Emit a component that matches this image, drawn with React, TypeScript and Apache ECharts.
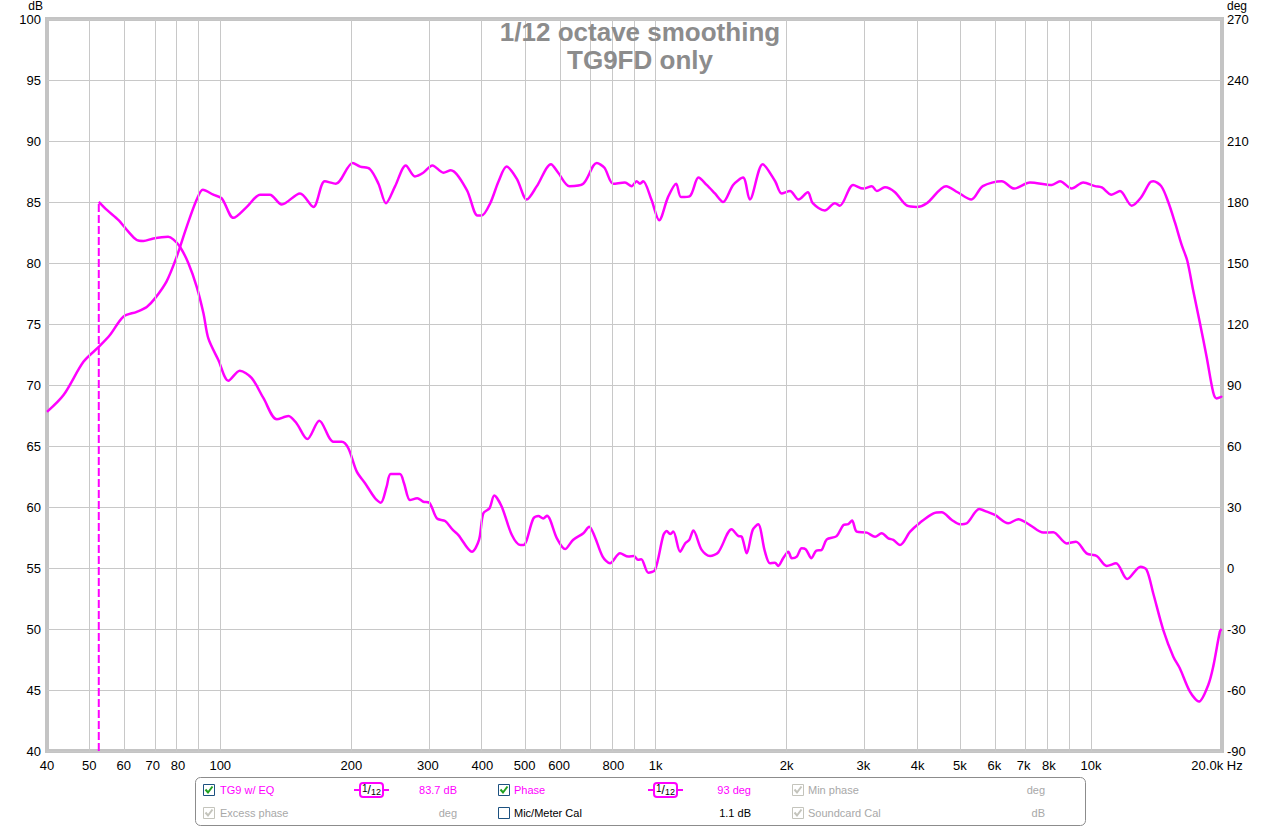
import { useEffect, useRef } from "react";
import * as echarts from "echarts";

// ---- Data (frequency in Hz) ----
const splFreq = [
  40, 43.7, 48.5, 52.5, 55.8, 59.9, 64.3, 67.8, 70.8, 75.3, 79.4, 83.8, 88.3, 91.2, 96.4, 100.8,
  107.2, 115.1, 123.5, 130, 138.4, 152.5, 163.7, 173.8, 184.3, 201.5, 209.6, 220.7, 230.9, 240.3,
  252.2, 266.8, 280, 292.6, 307.1, 325.5, 338.4, 368.3, 389.6, 398.7, 417, 435.9, 454.7, 480, 506,
  533.6, 575, 597.4, 633.9, 682.1, 732.4, 763, 799.2, 850.4, 881, 904.5, 920.5, 936.4, 978, 1019,
  1068, 1115, 1144, 1200, 1254.6, 1310, 1368.6, 1429, 1507, 1588, 1646, 1762, 1882, 1947, 2036,
  2129, 2237, 2296, 2447, 2581, 2650, 2843, 3000, 3139, 3222, 3364, 3547, 3782, 3980, 4198, 4648,
  4940, 5310, 5644, 6239, 6663, 7244, 8130, 8490, 9030, 9600, 10220, 10590, 11150, 11660, 12404,
  12990, 13660, 13900, 14500, 15050, 15600, 16150, 16640, 17160, 17790, 18440, 19090, 19430,
  19850, 20000,
];
const splDb = [
  67.8, 69.2, 71.9, 73.1, 74.1, 75.6, 76.0, 76.4, 77.1, 78.5, 80.5, 83.0, 85.2, 86.0, 85.6, 85.3,
  83.7, 84.6, 85.6, 85.6, 84.8, 85.7, 84.6, 86.7, 86.5, 88.2, 87.9, 87.7, 86.5, 84.9,
  86.3, 88.0, 87.1, 87.4, 88.0, 87.4, 87.6, 86.0, 83.9, 83.9, 84.9, 86.7, 87.9, 86.9, 85.2,
  86.3, 88.1, 87.4, 86.3, 86.5, 88.2, 87.8, 86.5, 86.6, 86.3, 86.7, 86.5, 86.7, 85.2, 83.5,
  85.4, 86.5, 85.4, 85.5, 87.0, 86.4, 85.7, 85.0, 86.4, 87.0, 85.2, 88.1, 86.7, 85.7, 85.9,
  85.2, 85.8, 84.9, 84.3, 84.9, 84.7, 86.4, 86.1, 86.3, 85.9, 86.2, 85.8, 84.7, 84.6, 84.9, 86.3,
  85.8, 85.2, 86.3, 86.7, 86.1, 86.6, 86.4, 86.7, 86.1, 86.6, 86.3, 86.2, 85.6, 85.9, 84.7,
  85.3, 86.6, 86.7, 86.3, 85.0, 83.3, 81.5, 80.2, 77.8, 75.1, 72.3, 69.4, 68.9,
  69.0, 69.1,
];

const phaseFreq = [
  52.6, 54.9, 58.4, 61.5, 64.3, 66.6, 70.2, 75.9, 78, 80.8, 84.5, 88.3, 91.5, 93.9, 99, 104.4,
  110.9, 118, 125.7, 134.9, 143.4, 149.8, 158.5, 168.9, 181.9, 190.1, 196.9, 205.9, 215.1, 226.8,
  233.8, 241.1, 246.3, 258.6, 264.3, 272.9, 283.5, 292.7, 302.1, 314.5, 328.5, 342.2, 352.4,
  378.5, 393, 402, 415.5, 426, 443, 467.6, 489, 497.3, 524, 537.8, 552, 563, 593.3, 619.5, 646,
  682.5, 703.8, 725, 755.7, 785.7, 828.5, 865.7, 892, 911, 927, 961.9, 996.8, 1042, 1061, 1079.6,
  1098, 1138.4, 1169, 1195, 1221, 1276, 1333.6, 1393, 1495, 1549, 1577, 1619, 1671, 1720, 1783,
  1831, 1880, 1913, 1963, 2018, 2055, 2110, 2165, 2213, 2280, 2338, 2406, 2473, 2605, 2699, 2770,
  2827, 2897, 3055, 3193, 3305, 3425, 3516, 3642, 3843, 4049, 4348, 4540, 4792, 5000, 5186, 5539,
  5763, 6017, 6457, 6811, 7244, 7770, 8193, 8796, 9238, 9773, 10311, 10867, 11418, 12113, 13000,
  13429, 13900, 14662, 15459, 16000, 16878, 17704, 18598, 19092, 19775, 19950,
];
const phaseDeg = [
  180.1, 176.1, 171.1, 165.4, 161.3, 160.8, 162.1, 162.9, 161.6, 158.0, 149.9, 138.3, 125.3, 112.9, 102.3, 92.1,
  97.0, 93.5, 83.5, 73.1, 74.8, 71.1, 63.4, 72.4, 62.1, 62.1, 58.9, 47.4, 41.7, 34.3,
  32.1, 40.0, 46.2, 46.2, 41.7, 33.4, 34.3, 32.6, 32.1, 24.4, 23.1, 18.7, 16.2,
  8.0, 13.8, 26.9, 29.4, 35.6, 30.2, 16.2, 11.3, 11.3, 24.4, 25.6, 24.4, 25.7, 14.6, 9.3, 13.8,
  17.1, 20.3, 15.4, 5.6, 2.3, 7.2, 5.6, 5.9, 4.0, 4.3, -2.3, -1.0, 16.2, 18.2, 16.7,
  17.9, 8.0, 12.1, 13.8, 18.4, 8.9, 5.9, 7.7, 19.0, 15.7, 15.4, 7.2, 18.7, 21.5, 8.0,
  2.3, 2.6, 1.0, 4.8, 8.0, 4.8, 5.6, 9.7, 9.2, 4.8, 8.5, 8.9, 14.1, 15.7, 21.1, 21.6,
  23.3, 17.9, 17.4, 15.4, 17.1, 14.6, 13.8, 11.3, 17.9, 22.3, 26.9, 27.4, 23.6, 21.5, 22.0, 29.0,
  27.7, 26.1, 22.0, 24.0, 21.1, 17.4, 17.6, 12.1, 12.9, 7.2, 5.9, 1.0, 2.3, -5.4, 0.6,
  -1.0, -12.4, -30.5, -43.6, -49.3, -60.8, -65.7, -57.5, -48.5, -31.3, -30.0,
];

// phase wrap marker (dashed vertical)
const wrapFreq = 52.6;
const wrapDeg = [-90, 180];

const gridFreqs = [
  50, 60, 70, 80, 90, 100, 200, 300, 400, 500, 600, 700, 800, 900, 1000, 2000, 3000, 4000, 5000,
  6000, 7000, 8000, 9000, 10000,
];
const tickFreqs = [
  40, 50, 60, 70, 80, 100, 200, 300, 400, 500, 600, 800, 1000, 2000, 3000, 4000, 5000, 6000, 7000,
  8000, 10000, 20000,
];
const tickLabels = [
  "40", "50", "60", "70", "80", "100", "200", "300", "400", "500", "600", "800", "1k", "2k", "3k",
  "4k", "5k", "6k", "7k", "8k", "10k", "20.0k Hz",
];

const FONT = '"Liberation Sans", Arial, sans-serif';
const MAGENTA = "#ff00ff";
const GRAY_TXT = "#a8a8a8";

function txt(text: string, x: number, y: number, fill: string, size = 11, align = "left", valign = "middle") {
  return {
    type: "text",
    silent: true,
    style: {
      text,
      x,
      y,
      fill,
      font: `${size}px ${FONT}`,
      align,
      verticalAlign: valign,
      textAlign: align,
      textVerticalAlign: valign,
    },
  };
}

function checkbox(x: number, y: number, enabled: boolean, checked: boolean) {
  const els: any[] = [
    {
      type: "rect",
      silent: true,
      shape: { x: x + 0.5, y: y + 0.5, width: 11, height: 11 },
      style: { fill: "#fff", stroke: enabled ? "#1c5180" : "#c4c4bc", lineWidth: 1 },
    },
  ];
  if (checked) {
    els.push({
      type: "polyline",
      silent: true,
      shape: { points: [[x + 2.5, y + 5.5], [x + 5, y + 8.5], [x + 9.5, y + 2.5]] },
      style: { stroke: enabled ? "#21a121" : "#c4c4bc", lineWidth: 2, fill: "none" },
    });
  }
  return els;
}

function smoothIcon(x: number, y: number) {
  return [
    { type: "line", silent: true, shape: { x1: x, y1: y, x2: x + 6, y2: y }, style: { stroke: MAGENTA, lineWidth: 2 } },
    { type: "line", silent: true, shape: { x1: x + 29, y1: y, x2: x + 35, y2: y }, style: { stroke: MAGENTA, lineWidth: 2 } },
    {
      type: "rect",
      silent: true,
      shape: { x: x + 6, y: y - 7, width: 23, height: 14, r: 3 },
      style: { fill: "#fff", stroke: MAGENTA, lineWidth: 2 },
    },
    {
      type: "text",
      silent: true,
      style: {
        text: "{a|1}{b|/}{c|12}",
        x: x + 17.5,
        y,
        align: "center",
        verticalAlign: "middle",
        textAlign: "center",
        textVerticalAlign: "middle",
        fill: "#000",
        font: `11px ${FONT}`,
        rich: {
          a: { fontSize: 10, fontFamily: FONT, fill: "#000", color: "#000", verticalAlign: "top", lineHeight: 13 },
          b: { fontSize: 12, fontFamily: FONT, fill: "#000", color: "#000", lineHeight: 13 },
          c: { fontSize: 9, fontFamily: FONT, fill: "#000", color: "#000", verticalAlign: "bottom", lineHeight: 13 },
        },
      },
    },
  ];
}

export default function App() {
  const ref = useRef<HTMLDivElement>(null);

  useEffect(() => {
    const chart = echarts.init(ref.current!, null, { renderer: "svg" });
    const lg = Math.log10;

    const fmt = (v: number) => {
      const i = tickFreqs.findIndex((f) => Math.abs(lg(f) - v) < 1e-6);
      if (i < 0) return "";
      return i === tickFreqs.length - 1 ? `{e|${tickLabels[i]}}` : tickLabels[i];
    };

    const r1 = 790;
    const r2 = 813;

    const graphic: any[] = [
      txt("dB", 43, 6, "#000", 12, "right"),
      txt("deg", 1227, 6, "#000", 12, "left"),
      {
        type: "rect",
        silent: true,
        shape: { x: 195.5, y: 777.5, width: 890, height: 48, r: 5 },
        style: { fill: "#fff", stroke: "#8c8c8c", lineWidth: 1 },
      },
      ...checkbox(203, r1 - 6, true, true),
      txt("TG9 w/ EQ", 220, r1, MAGENTA),
      ...smoothIcon(354, r1),
      txt("83.7 dB", 457, r1, MAGENTA, 11, "right"),
      ...checkbox(498, r1 - 6, true, true),
      txt("Phase", 514, r1, MAGENTA),
      ...smoothIcon(648, r1),
      txt("93 deg", 751, r1, MAGENTA, 11, "right"),
      ...checkbox(792, r1 - 6, false, true),
      txt("Min phase", 808, r1, GRAY_TXT),
      txt("deg", 1045, r1, GRAY_TXT, 11, "right"),
      ...checkbox(203, r2 - 6, false, true),
      txt("Excess phase", 220, r2, GRAY_TXT),
      txt("deg", 457, r2, GRAY_TXT, 11, "right"),
      ...checkbox(498, r2 - 6, true, false),
      txt("Mic/Meter Cal", 514, r2, "#000"),
      txt("1.1 dB", 751, r2, "#000", 11, "right"),
      ...checkbox(792, r2 - 6, false, true),
      txt("Soundcard Cal", 808, r2, GRAY_TXT),
      txt("dB", 1045, r2, GRAY_TXT, 11, "right"),
    ];

    const option: any = {
      animation: false,
      backgroundColor: "#fff",
      textStyle: { fontFamily: FONT },
      title: {
        text: "1/12 octave smoothing\nTG9FD only",
        left: "center",
        top: 18,
        padding: 0,
        textStyle: { fontSize: 26, fontWeight: "bold", color: "#8c8c8c", lineHeight: 28, fontFamily: FONT },
      },
      grid: {
        left: 47,
        top: 19,
        width: 1175,
        height: 732,
        show: true,
        borderColor: "#c4c4c4",
        borderWidth: 4,
        backgroundColor: "#fff",
      },
      xAxis: {
        type: "value",
        min: lg(40),
        max: lg(20000),
        axisLine: { show: false },
        axisTick: { show: false },
        splitLine: { show: false },
        axisLabel: {
          customValues: tickFreqs.map((f) => lg(f)),
          formatter: fmt,
          fontSize: 13,
          color: "#000",
          margin: 8,
          fontFamily: FONT,
          rich: { e: { padding: [0, 10, 0, 0], fontSize: 13, color: "#000", fontFamily: FONT } },
        },
      },
      yAxis: [
        {
          type: "value",
          min: 40,
          max: 100,
          interval: 5,
          position: "left",
          axisLine: { show: false },
          axisTick: { show: false },
          splitLine: { show: true, lineStyle: { color: "#c8c8c8", width: 1 } },
          axisLabel: { fontSize: 13, color: "#000", margin: 6, fontFamily: FONT },
        },
        {
          type: "value",
          min: -90,
          max: 270,
          interval: 30,
          position: "right",
          axisLine: { show: false },
          axisTick: { show: false },
          splitLine: { show: false },
          axisLabel: { fontSize: 13, color: "#000", margin: 5, fontFamily: FONT },
        },
      ],
      series: [
        {
          name: "vgrid",
          type: "line",
          data: [],
          z: 1,
          silent: true,
          markLine: {
            silent: true,
            symbol: ["none", "none"],
            label: { show: false },
            lineStyle: { color: "#c8c8c8", width: 1, type: "solid" },
            emphasis: { disabled: true },
            data: gridFreqs.map((f) => ({ xAxis: lg(f) })),
          },
        },
        {
          name: "TG9 w/ EQ",
          type: "line",
          z: 3,
          yAxisIndex: 0,
          showSymbol: false,
          smooth: 0.3,
          lineStyle: { color: MAGENTA, width: 2.5 },
          itemStyle: { color: MAGENTA },
          data: splFreq.map((f, i) => [lg(f), splDb[i]]),
        },
        {
          name: "Phase",
          type: "line",
          z: 3,
          yAxisIndex: 1,
          showSymbol: false,
          smooth: 0.3,
          lineStyle: { color: MAGENTA, width: 2.5 },
          itemStyle: { color: MAGENTA },
          data: phaseFreq.map((f, i) => [lg(f), phaseDeg[i]]),
        },
        {
          name: "Phase wrap",
          type: "line",
          z: 3,
          yAxisIndex: 1,
          showSymbol: false,
          lineStyle: { color: MAGENTA, width: 2, type: [8, 3] },
          data: wrapDeg.map((d) => [lg(wrapFreq), d]),
        },
      ],
      graphic,
    };

    chart.setOption(option);
    return () => chart.dispose();
  }, []);

  return (
    <div
      ref={ref}
      style={{ position: "fixed", left: 0, top: 0, width: 1280, height: 827, background: "#fff" }}
    />
  );
}
